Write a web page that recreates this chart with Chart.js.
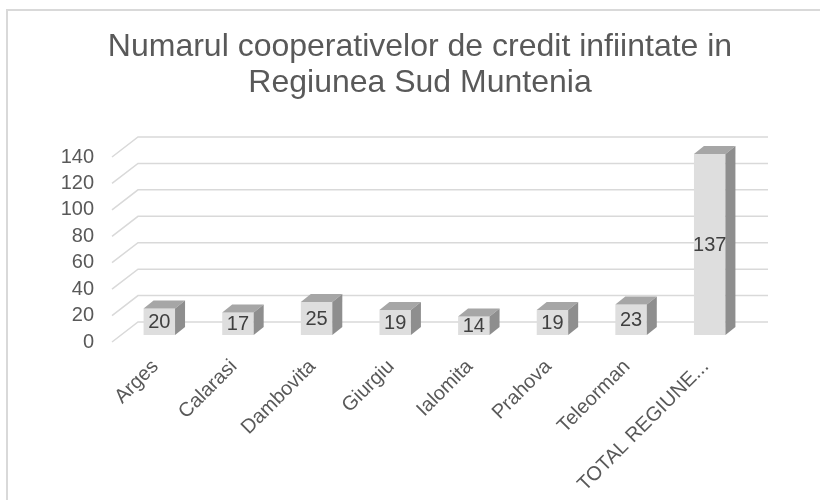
<!DOCTYPE html>
<html lang="ro">
<head>
    <meta charset="UTF-8">
    <title>Numarul cooperativelor de credit infiintate in Regiunea Sud Muntenia</title>
    <script src="https://cdn.jsdelivr.net/npm/chart.js"></script>
    <style>
        body { margin: 0; background: #fff; }
        canvas { display: block; }
    </style>
</head>
<body>
    <canvas id="chart" width="820" height="500"></canvas>

    <script>
        // Date: judete si numarul de cooperative de credit
        const judete = ["Arges", "Calarasi", "Dambovita", "Giurgiu", "Ialomita", "Prahova", "Teleorman", "TOTAL REGIUNE SUD MUNTENIA"];
        const cooperative = [20, 17, 25, 19, 14, 19, 23, 137];
        const titlu = ["Numarul cooperativelor de credit infiintate in", "Regiunea Sud Muntenia"];
        const axaY = { min: 0, max: 140, pas: 20 };

        const FONT = "'Liberation Sans', Arial, sans-serif";
        const GRI_TEXT = "#595959";
        const ADANC = { dx: 10, dy: -8 };   // adancimea 3D a barelor

        // rama din stanga si de sus
        const rama = {
            id: "rama",
            beforeDraw(chart) {
                const ctx = chart.ctx;
                ctx.save();
                ctx.strokeStyle = "#d9d9d9";
                ctx.lineWidth = 2;
                ctx.beginPath();
                ctx.moveTo(7, chart.height);
                ctx.lineTo(7, 10);
                ctx.lineTo(chart.width, 10);
                ctx.stroke();
                ctx.restore();
            }
        };

        // liniile de grila pe peretele din spate + segmentele oblice
        const grila3d = {
            id: "grila3d",
            beforeDatasetsDraw(chart) {
                const ctx = chart.ctx, a = chart.chartArea, y = chart.scales.y;
                ctx.save();
                ctx.strokeStyle = "#d9d9d9";
                ctx.lineWidth = 1.5;
                y.ticks.forEach(t => {
                    const py = y.getPixelForValue(t.value);
                    ctx.beginPath();
                    ctx.moveTo(a.left - 8, py + 7);
                    ctx.lineTo(a.left + 18, py - 13);
                    ctx.lineTo(a.right + 19, py - 13);
                    ctx.stroke();
                });
                ctx.restore();
            }
        };

        // fetele de sus si laterale ale barelor, apoi etichetele cu valori
        const bare3d = {
            id: "bare3d",
            afterDatasetsDraw(chart) {
                const ctx = chart.ctx;
                const meta = chart.getDatasetMeta(0);
                ctx.save();
                meta.data.forEach((bar, i) => {
                    const w = bar.width, l = bar.x - w / 2, r = bar.x + w / 2;
                    const top = bar.y, base = bar.base;
                    // sus
                    ctx.fillStyle = "#a6a6a6";
                    ctx.beginPath();
                    ctx.moveTo(l, top);
                    ctx.lineTo(l + ADANC.dx, top + ADANC.dy);
                    ctx.lineTo(r + ADANC.dx, top + ADANC.dy);
                    ctx.lineTo(r, top);
                    ctx.closePath();
                    ctx.fill();
                    // lateral
                    ctx.fillStyle = "#8e8e8e";
                    ctx.beginPath();
                    ctx.moveTo(r, top);
                    ctx.lineTo(r + ADANC.dx, top + ADANC.dy);
                    ctx.lineTo(r + ADANC.dx, base + ADANC.dy);
                    ctx.lineTo(r, base);
                    ctx.closePath();
                    ctx.fill();
                    // valoare
                    ctx.fillStyle = "#404040";
                    ctx.font = "20px " + FONT;
                    ctx.textAlign = "center";
                    ctx.textBaseline = "middle";
                    ctx.fillText(String(cooperative[i]), bar.x, (top + base) / 2 + 1);
                });
                ctx.restore();
            }
        };

        new Chart(document.getElementById("chart"), {
            type: "bar",
            data: {
                labels: judete,
                datasets: [{
                    data: cooperative,
                    backgroundColor: "#dedede",
                    borderWidth: 0,
                    categoryPercentage: 1,
                    barPercentage: 0.4
                }]
            },
            options: {
                responsive: false,
                animation: false,
                layout: { padding: { left: 20, right: 0, top: 0, bottom: 0 } },
                plugins: {
                    legend: { display: false },
                    tooltip: { enabled: false },
                    title: {
                        display: true,
                        text: titlu,
                        color: GRI_TEXT,
                        font: { family: FONT, size: 32, weight: "normal", lineHeight: 1.1 },
                        padding: { top: 30, bottom: 49.6 }
                    }
                },
                scales: {
                    x: {
                        grid: { display: false },
                        border: { display: false },
                        ticks: {
                            color: GRI_TEXT,
                            font: { family: FONT, size: 20 },
                            minRotation: 45,
                            maxRotation: 45,
                            autoSkip: false,
                            padding: 12,
                            labelOffset: -4,
                            callback: function (v) {
                                const s = this.getLabelForValue(v);
                                return s.length > 16 ? s.slice(0, 13) + "..." : s;
                            }
                        },
                        afterFit(s) { s.height = 165; }
                    },
                    y: {
                        min: axaY.min,
                        max: axaY.max,
                        grid: { display: false, drawTicks: false },
                        border: { display: false },
                        ticks: {
                            stepSize: axaY.pas,
                            autoSkip: false,
                            color: GRI_TEXT,
                            font: { family: FONT, size: 20 },
                            padding: 26,
                            labelOffset: 7
                        },
                        afterFit(s) { s.width = 100; }
                    },
                    // axa goala din dreapta, doar pentru spatiul de langa peretele din spate
                    yR: {
                        position: "right",
                        grid: { display: false },
                        border: { display: false },
                        ticks: { display: false },
                        afterFit(s) { s.width = 71; }
                    }
                }
            },
            plugins: [rama, grila3d, bare3d]
        });
    </script>
</body>
</html>
